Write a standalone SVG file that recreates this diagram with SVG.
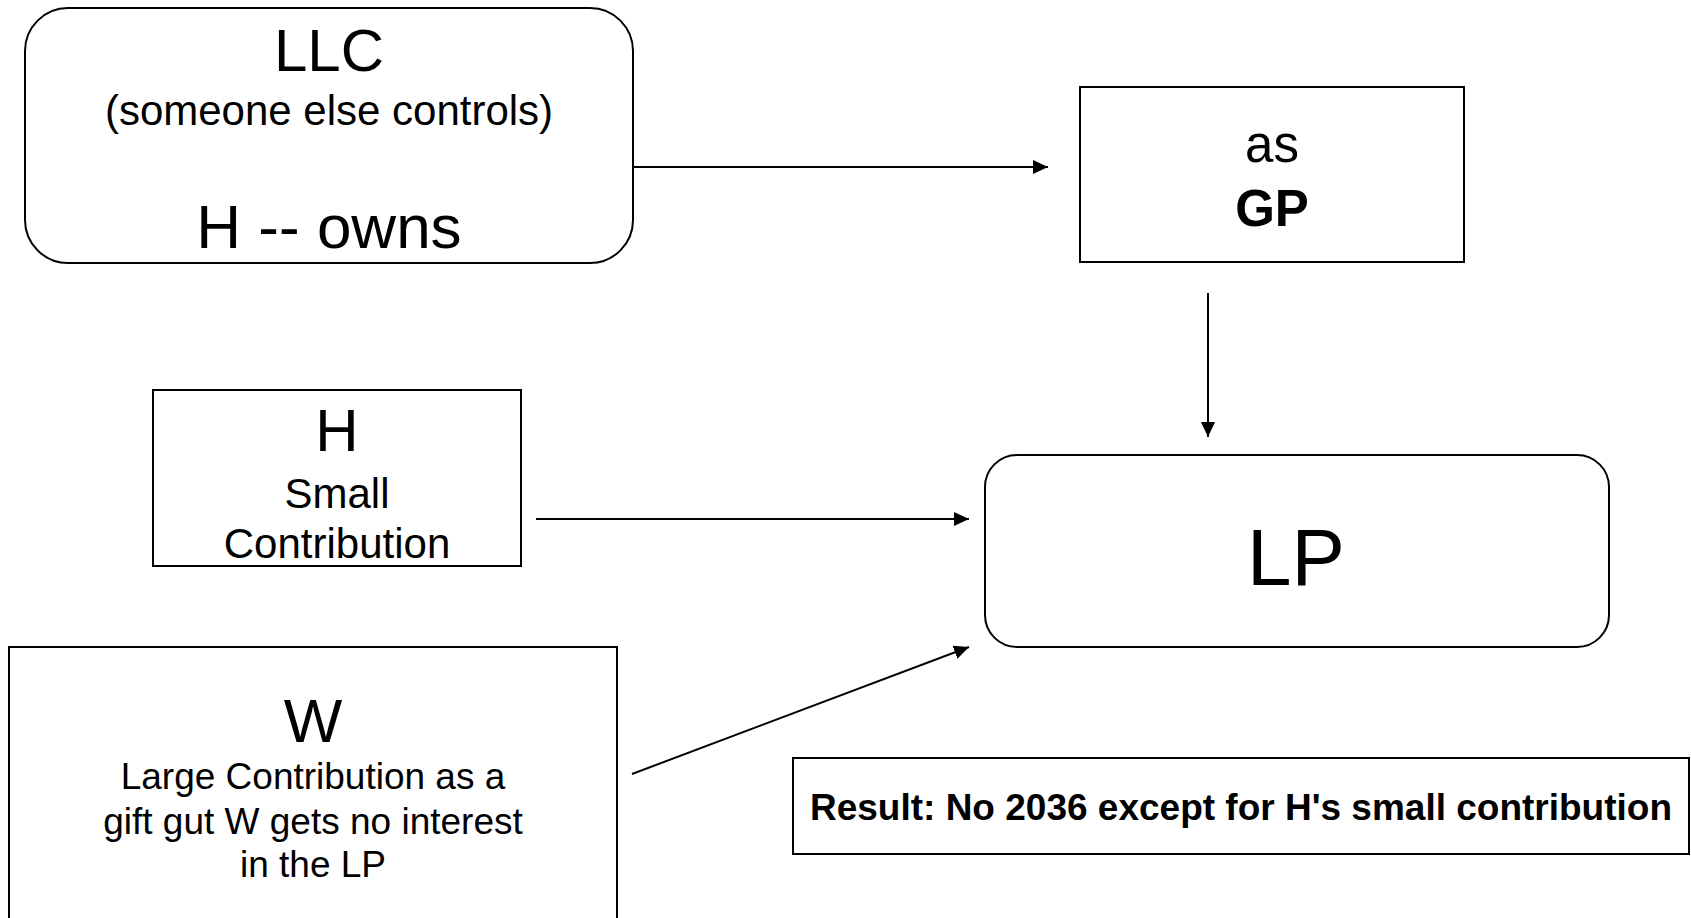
<svg xmlns="http://www.w3.org/2000/svg" width="1691" height="918" viewBox="0 0 1691 918">
<style>
  .box{fill:#fff;stroke:#000;stroke-width:2}
  .t{font-family:"Liberation Sans",Arial,sans-serif;fill:#000;text-anchor:middle}
  .b{font-weight:bold}
  .c{stroke:#000;stroke-width:2;fill:none}
</style>
<defs>
  <marker id="ah" markerWidth="15" markerHeight="14" refX="15" refY="7" orient="auto" markerUnits="userSpaceOnUse">
    <path d="M0,0 L15,7 L0,14 Z" fill="#000"/>
  </marker>
</defs>
<rect width="1691" height="918" fill="#fff"/>
<g id="connectors">
  <line class="c" x1="633" y1="167" x2="1048" y2="167" marker-end="url(#ah)"/>
  <line class="c" x1="1208" y1="293" x2="1208" y2="437" marker-end="url(#ah)"/>
  <line class="c" x1="536" y1="519" x2="969" y2="519" marker-end="url(#ah)"/>
  <line class="c" x1="632" y1="774" x2="969" y2="647" marker-end="url(#ah)"/>
</g>
<g id="llc">
  <rect class="box" x="25" y="8" width="608" height="255" rx="43" ry="43"/>
  <text class="t" x="329" y="71" font-size="60">LLC</text>
  <text class="t" x="329" y="125" font-size="42">(someone else controls)</text>
  <text class="t" x="329" y="248" font-size="62">H -- owns</text>
</g>
<g id="gp">
  <rect class="box" x="1080" y="87" width="384" height="175"/>
  <text class="t" x="1272" y="162" font-size="51">as</text>
  <text class="t b" x="1272" y="226" font-size="51">GP</text>
</g>
<g id="h">
  <rect class="box" x="153" y="390" width="368" height="176"/>
  <text class="t" x="337" y="451" font-size="60">H</text>
  <text class="t" x="337" y="508" font-size="42">Small</text>
  <text class="t" x="337" y="558" font-size="42">Contribution</text>
</g>
<g id="lp">
  <rect class="box" x="985" y="455" width="624" height="192" rx="32" ry="32"/>
  <text class="t" x="1296" y="585" font-size="80">LP</text>
</g>
<g id="w">
  <rect class="box" x="9" y="647" width="608" height="280"/>
  <text class="t" x="313" y="742" font-size="62">W</text>
  <text class="t" x="313" y="789" font-size="37">Large Contribution as a</text>
  <text class="t" x="313" y="834" font-size="37">gift gut W gets no interest</text>
  <text class="t" x="313" y="877" font-size="37">in the LP</text>
</g>
<g id="result">
  <rect class="box" x="793" y="758" width="896" height="96"/>
  <text class="t b" x="1241" y="820" font-size="37">Result: No 2036 except for H's small contribution</text>
</g>
</svg>
